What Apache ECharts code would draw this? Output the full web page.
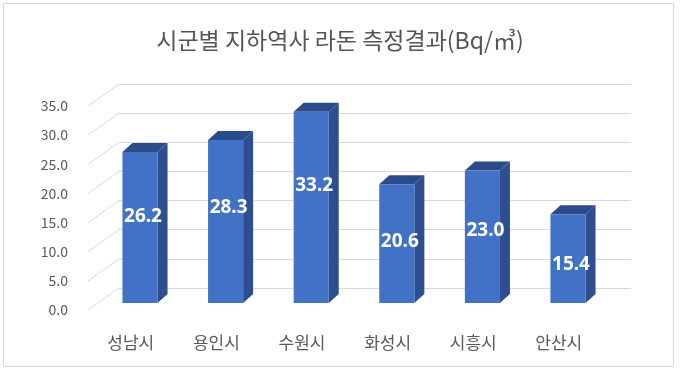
<!DOCTYPE html>
<html>
<head>
<meta charset="utf-8">
<script src="https://cdn.jsdelivr.net/npm/echarts@6/dist/echarts.min.js"></script>
<style>html,body{margin:0;padding:0;background:#fff;}#c{width:680px;height:371px;}</style>
</head>
<body>
<div id="c"></div>
<script>
const titleText = '시군별 지하역사 라돈 측정결과(Bq/㎥)';
const categories = ['성남시', '용인시', '수원시', '화성시', '시흥시', '안산시'];
const values = [26.2, 28.3, 33.2, 20.6, 23.0, 15.4];
const yTicks = [0, 5, 10, 15, 20, 25, 30, 35];

const FRONT = '#4272C6', SIDE = '#2D4F92', TOP = '#2B4B8A';
const GRID_C = '#d9d9d9', TXT = '#595959';
const DEPTH_X = 31, DEPTH_Y = -22; // wall depth
const BAR_DX = 10, BAR_DY = -9;     // bar depth
const FF = '"Noto Sans CJK KR", "Noto Sans", sans-serif';

const chart = echarts.init(document.getElementById('c'), null, {renderer: 'canvas'});

const yMin = yTicks[0], yMax = yTicks[yTicks.length - 1], yStep = yTicks[1] - yTicks[0];

function renderDiag(params, api) {
  const p = api.coord([0, api.value(1)]);
  const x0 = params.coordSys.x;
  return {
    type: 'line',
    shape: {x1: x0, y1: p[1], x2: x0 + DEPTH_X, y2: p[1] + DEPTH_Y},
    style: {stroke: GRID_C, lineWidth: 1}
  };
}

function renderBar(params, api) {
  const i = api.value(0), v = api.value(1);
  const top = api.coord([i, v]);
  const base = api.coord([i, 0]);
  const w = api.size([1, 0])[0] * 0.41;
  const xl = top[0] - w / 2, xr = top[0] + w / 2;
  const lab = api.coord([i, v * 0.77 - 5.2]);
  return {
    type: 'group',
    children: [
      {type: 'polygon', shape: {points: [[xr, top[1]], [xr + BAR_DX, top[1] + BAR_DY], [xr + BAR_DX, base[1] + BAR_DY], [xr, base[1]]]}, style: {fill: SIDE}},
      {type: 'polygon', shape: {points: [[xl, top[1]], [xl + BAR_DX, top[1] + BAR_DY], [xr + BAR_DX, top[1] + BAR_DY], [xr, top[1]]]}, style: {fill: TOP}},
      {type: 'rect', shape: {x: xl, y: top[1], width: w, height: base[1] - top[1]}, style: {fill: FRONT}},
      {type: 'text', x: top[0] + 3, y: lab[1], style: {text: v.toFixed(1), fill: '#ffffff', fontSize: 19, fontWeight: 'bold', fontFamily: '"Noto Sans", sans-serif', align: 'center', verticalAlign: 'middle'}}
    ]
  };
}

chart.setOption({
  animation: false,
  backgroundColor: '#ffffff',
  title: {
    text: titleText, left: 'center', top: 24,
    textStyle: {fontSize: 23, fontWeight: 'normal', color: '#555555', fontFamily: FF}
  },
  graphic: [{
    type: 'rect', silent: true, z: -10,
    shape: {x: 3.5, y: 3.5, width: 670, height: 363},
    style: {fill: 'none', stroke: GRID_C, lineWidth: 1}
  }],
  grid: [
    {left: 88, top: 106, width: 513.6, height: 204},
    {left: 118, top: 84, width: 513, height: 204},
    {left: 97.2, top: 101.4, width: 513.6, height: 201.6}
  ],
  xAxis: [
    {type: 'category', gridIndex: 0, data: categories, axisLine: {show: false}, axisTick: {show: false},
     axisLabel: {margin: 24, fontSize: 17, color: TXT, fontFamily: FF}},
    {type: 'category', gridIndex: 1, data: categories, show: false},
    {type: 'category', gridIndex: 2, data: categories, show: false}
  ],
  yAxis: [
    {type: 'value', gridIndex: 0, min: yMin, max: yMax, interval: yStep,
     axisLine: {show: false}, axisTick: {show: false}, splitLine: {show: false},
     axisLabel: {margin: 20, fontSize: 14, color: TXT, fontFamily: FF, formatter: v => v.toFixed(1)}},
    {type: 'value', gridIndex: 1, min: yMin, max: yMax, interval: yStep,
     axisLine: {show: false}, axisTick: {show: false}, axisLabel: {show: false},
     splitLine: {show: true, lineStyle: {color: GRID_C, width: 1}}},
    {type: 'value', gridIndex: 2, min: yMin, max: yMax, interval: yStep, show: false, splitLine: {show: false}}
  ],
  series: [
    {type: 'custom', xAxisIndex: 0, yAxisIndex: 0, silent: true, clip: false, z: 1,
     renderItem: renderDiag, data: yTicks.map(v => [0, v])},
    {type: 'custom', xAxisIndex: 2, yAxisIndex: 2, silent: true, clip: false, z: 5,
     renderItem: renderBar, data: values.map((v, i) => [i, v])}
  ]
});
</script>
</body>
</html>
